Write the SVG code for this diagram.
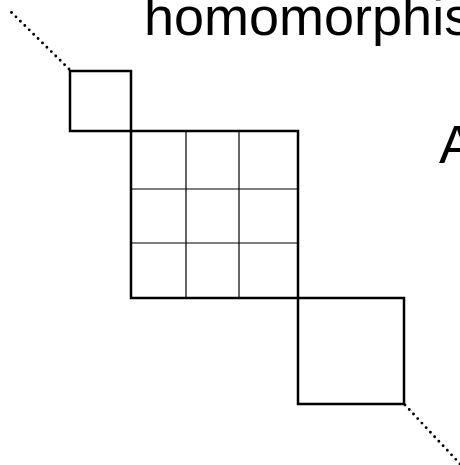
<svg xmlns="http://www.w3.org/2000/svg" width="460" height="465" viewBox="0 0 460 465">
  <style>
    .box { fill: none; stroke: #000; stroke-width: 2.5; }
    .grid { fill: none; stroke: #000; stroke-width: 1.2; }
    .dots { fill: none; stroke: #000; stroke-width: 2.9; stroke-linecap: round; stroke-dasharray: 0 6.2; }
    .label { font-family: "Liberation Sans", Arial, sans-serif; font-size: 54px; fill: #000; }
  </style>
  <rect width="460" height="465" fill="#fff"/>

  <!-- continuation of the diagonal -->
  <g id="connectors">
    <line class="dots" x1="69" y1="69" x2="8" y2="9"/>
    <line class="dots" x1="405" y1="405" x2="462" y2="466"/>
  </g>

  <g id="block-small">
    <rect class="box" x="70" y="71" width="61" height="60"/>
  </g>

  <g id="block-grid">
    <rect class="box" x="131" y="131" width="167" height="167"/>
    <line class="grid" x1="186" y1="131" x2="186" y2="298"/>
    <line class="grid" x1="239" y1="131" x2="239" y2="298"/>
    <line class="grid" x1="131" y1="189" x2="298" y2="189"/>
    <line class="grid" x1="131" y1="243" x2="298" y2="243"/>
  </g>

  <g id="block-large">
    <rect class="box" x="298" y="298" width="106" height="106"/>
  </g>

  <g id="labels">
    <text class="label" x="144" y="35">homomorphis</text>
    <text class="label" x="439" y="163">A</text>
  </g>
</svg>
